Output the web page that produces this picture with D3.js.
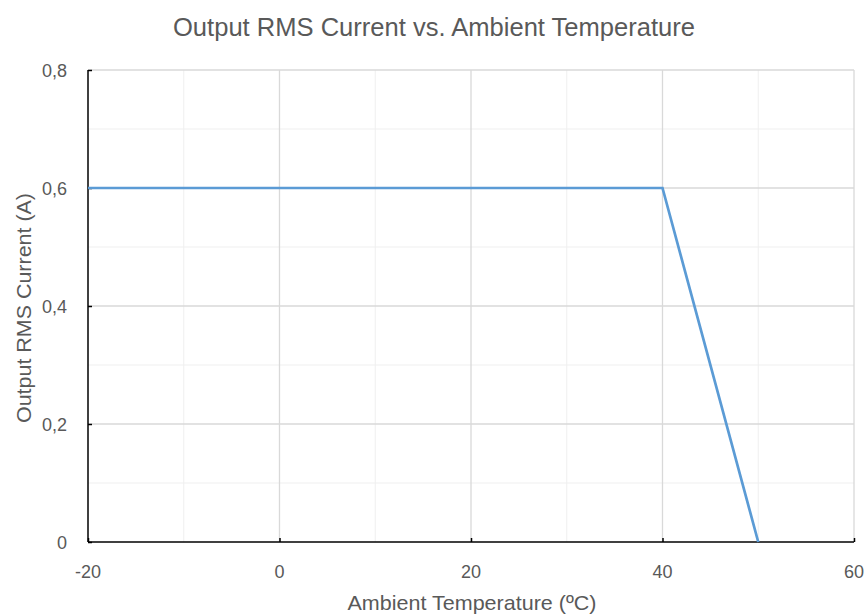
<!DOCTYPE html>
<html>
<head>
<meta charset="utf-8">
<script src="https://cdn.jsdelivr.net/npm/d3@7"></script>
<style>
  body { margin: 0; background: #fff; }
  text { font-family: "Liberation Sans", Arial, sans-serif; fill: #595959; }
</style>
</head>
<body>
<script>
'use strict';

// derating curve
let temps = [-20, 40, 50];
let currents = [0.6, 0.6, 0];
let xTicks = [-20, 0, 20, 40, 60];
let xMinor = [-10, 10, 30, 50];
let yTicks = [0, 0.2, 0.4, 0.6, 0.8];
let yMinor = [0.1, 0.3, 0.5, 0.7];

let svg = d3.select('body').append('svg')
  .attr('width', 867)
  .attr('height', 616);

let xScale = d3.scaleLinear().domain([-20, 60]).range([88, 854]);
let yScale = d3.scaleLinear().domain([0, 0.8]).range([542, 70]);

// minor gridlines
svg.selectAll('.xminor').data(xMinor).enter().append('line')
  .attr('x1', d => xScale(d)).attr('x2', d => xScale(d))
  .attr('y1', yScale(0)).attr('y2', yScale(0.8))
  .attr('stroke', '#efefef').attr('stroke-width', 1);
svg.selectAll('.yminor').data(yMinor).enter().append('line')
  .attr('x1', xScale(-20)).attr('x2', xScale(60))
  .attr('y1', d => yScale(d)).attr('y2', d => yScale(d))
  .attr('stroke', '#efefef').attr('stroke-width', 1);

// major gridlines
svg.selectAll('.xmajor').data(xTicks.slice(1)).enter().append('line')
  .attr('x1', d => xScale(d)).attr('x2', d => xScale(d))
  .attr('y1', yScale(0)).attr('y2', yScale(0.8))
  .attr('stroke', '#d9d9d9').attr('stroke-width', 1.3);
svg.selectAll('.ymajor').data(yTicks.slice(1)).enter().append('line')
  .attr('x1', xScale(-20)).attr('x2', xScale(60))
  .attr('y1', d => yScale(d)).attr('y2', d => yScale(d))
  .attr('stroke', '#d9d9d9').attr('stroke-width', 1.3);

// axes
let xAxis = svg.append('g')
  .attr('transform', 'translate(0,' + yScale(0) + ')')
  .call(d3.axisTop(xScale).tickValues(xTicks).tickSize(4).tickFormat(''));
xAxis.selectAll('path, line').attr('stroke', '#000').attr('stroke-width', 1.5);
xAxis.select('.domain').attr('d', 'M' + xScale(-20) + ',0H' + xScale(60));

svg.selectAll('.xlab').data(xTicks).enter().append('text')
  .attr('x', d => xScale(d))
  .attr('y', yScale(0) + 36)
  .attr('text-anchor', 'middle')
  .style('font-size', '18px')
  .text(d => d);

let yAxis = svg.append('g')
  .attr('transform', 'translate(' + xScale(-20) + ',0)')
  .call(d3.axisRight(yScale).tickValues(yTicks).tickSize(4).tickFormat(''));
yAxis.selectAll('path, line').attr('stroke', '#000').attr('stroke-width', 1.5);
yAxis.select('.domain').attr('d', 'M0,' + yScale(0) + 'V' + yScale(0.8));

svg.selectAll('.ylab').data(yTicks).enter().append('text')
  .attr('x', xScale(-20) - 21)
  .attr('y', d => yScale(d) + 6.5)
  .attr('text-anchor', 'end')
  .style('font-size', '18px')
  .text(d => d3.format('.1~f')(d).replace('.', ','));

// the curve
let line = d3.line()
  .x(d => xScale(d[0]))
  .y(d => yScale(d[1]));
svg.append('path')
  .datum(temps.map((t, i) => [t, currents[i]]))
  .attr('d', line)
  .attr('fill', 'none')
  .attr('stroke', '#5b9bd5')
  .attr('stroke-width', 2.7);

// title and axis labels (squeezed like the original)
svg.append('text')
  .attr('x', 434)
  .attr('y', 36)
  .attr('text-anchor', 'middle')
  .attr('textLength', 522)
  .attr('lengthAdjust', 'spacingAndGlyphs')
  .style('font-size', '26px')
  .text('Output RMS Current vs. Ambient Temperature');

svg.append('text')
  .attr('x', 472)
  .attr('y', 610)
  .attr('text-anchor', 'middle')
  .attr('textLength', 249)
  .attr('lengthAdjust', 'spacingAndGlyphs')
  .style('font-size', '21px')
  .text('Ambient Temperature (ºC)');

svg.append('text')
  .attr('transform', 'translate(31,' + 308 + ')rotate(-90)')
  .attr('text-anchor', 'middle')
  .attr('textLength', 230)
  .attr('lengthAdjust', 'spacingAndGlyphs')
  .style('font-size', '21px')
  .text('Output RMS Current (A)');
</script>
</body>
</html>
